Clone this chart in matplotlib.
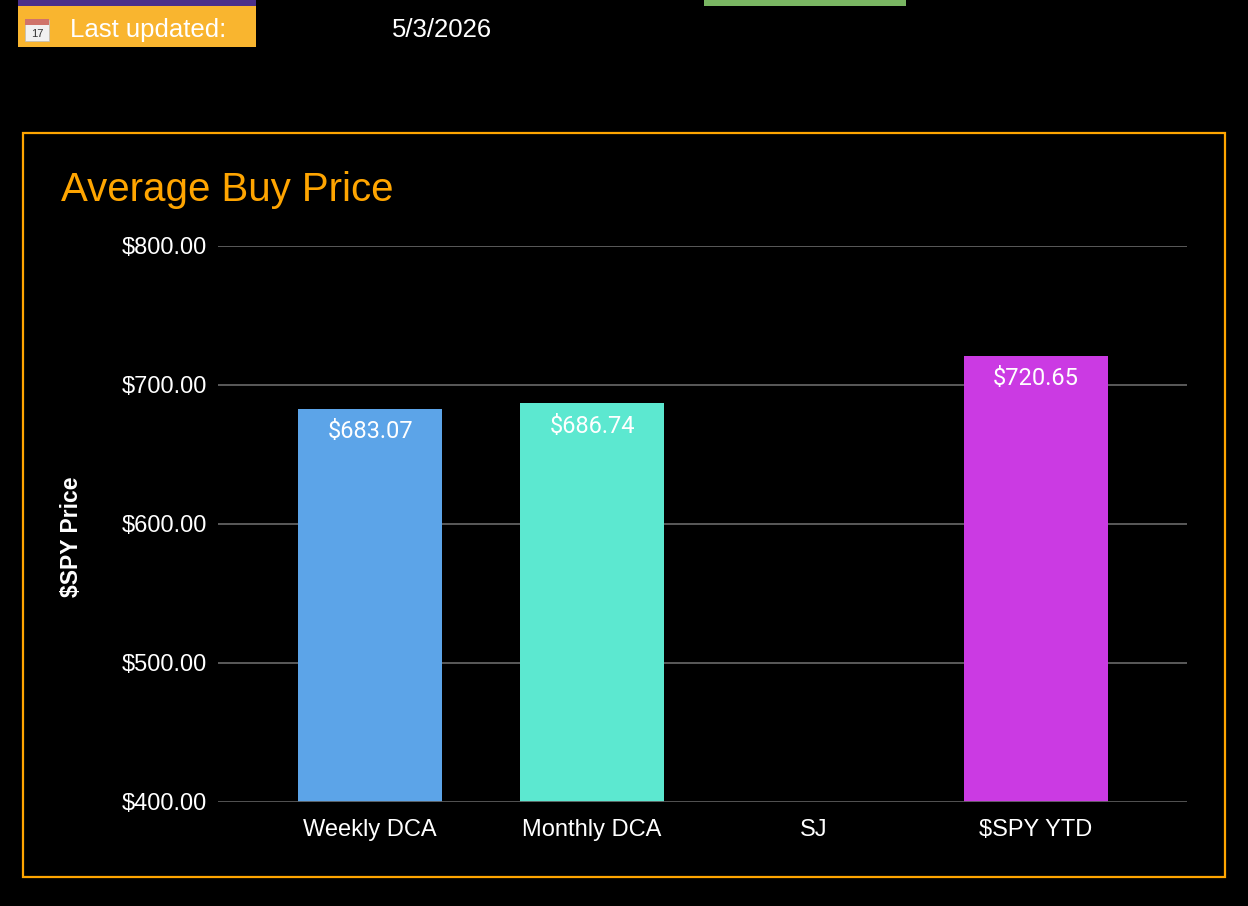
import numpy as np
import matplotlib
matplotlib.use("Agg")
import matplotlib.pyplot as plt
from matplotlib.patches import Rectangle

categories = ["Weekly DCA", "Monthly DCA", "SJ", "$SPY YTD"]
avg_price = [683.07, 686.74, np.nan, 720.65]
bar_colors = ["#5ca4e8", "#5ce8d0", "#000000", "#cb3ae3"]
y_ticks = [400, 500, 600, 700, 800]
last_updated = "5/3/2026"

W, H = 1248, 906
plt.rcParams["font.family"] = ["Liberation Sans", "DejaVu Sans"]

fig = plt.figure(figsize=(W / 100, H / 100), dpi=100, facecolor="black")


def px(x, y):
    # pixel coords (top-left origin) -> figure fraction
    return x / W, 1 - y / H


# header strip
fig.patches.append(Rectangle(px(18, 6), 238 / W, 6 / H, transform=fig.transFigure,
                             facecolor="#4b2f8a", edgecolor="none"))
fig.patches.append(Rectangle(px(18, 47), 238 / W, 41 / H, transform=fig.transFigure,
                             facecolor="#f9b52f", edgecolor="none"))
fig.patches.append(Rectangle(px(704, 6), 202 / W, 6 / H, transform=fig.transFigure,
                             facecolor="#79b562", edgecolor="none"))

# small calendar icon
fig.patches.append(Rectangle(px(25, 41), 24 / W, 21 / H, transform=fig.transFigure,
                             facecolor="#f1f1f1", edgecolor="#bbbbbb", lw=0.5))
fig.patches.append(Rectangle(px(25, 25), 24 / W, 6 / H, transform=fig.transFigure,
                             facecolor="#d0736a", edgecolor="none"))
fig.text(*px(37, 34), "17", color="#333333", fontsize=8, ha="center", va="center")

fig.text(*px(70, 30), "Last updated:", color="white", fontsize=18.5, va="center")
fig.text(*px(392, 30), last_updated, color="white", fontsize=18.5, va="center")

# orange chart frame
fig.patches.append(Rectangle(px(23, 877), 1202 / W, 744 / H, transform=fig.transFigure,
                             facecolor="none", edgecolor="#ffa500", lw=1.6))

fig.text(*px(61, 190), "Average Buy Price", color="#ffa500", fontsize=29, va="center")

ax = fig.add_axes([218 / W, (H - 802) / H, 969 / W, 556 / H])
ax.set_facecolor("black")

x = np.arange(len(categories))
vals = np.array(avg_price)
ax.bar(x, vals - 400, bottom=400, width=0.65, color=bar_colors, zorder=3)

for xi, v in zip(x, vals):
    if np.isnan(v):
        continue
    ax.annotate(f"${v:,.2f}", (xi, v), xytext=(0, -8), textcoords="offset points",
                ha="center", va="top", color="white", fontsize=17, family="Roboto", zorder=4)

ax.set_xlim(-0.685, 3.68)
ax.set_ylim(400, 800)
ax.set_yticks(y_ticks)
ax.set_yticklabels([f"${t:,.2f}" for t in y_ticks])
ax.set_xticks(x)
ax.set_xticklabels(categories)
ax.tick_params(axis="both", length=0, colors="white", labelsize=17)
ax.tick_params(axis="y", pad=8)
ax.tick_params(axis="x", pad=12)

for t in y_ticks[1:]:
    ax.axhline(t, color="#5a5a5a", lw=1.4, zorder=1)
ax.axhline(400, color="#5a5a5a", lw=2, zorder=5)

for s in ax.spines.values():
    s.set_visible(False)

fig.text(*px(72, 537), "$SPY Price", color="white", fontsize=16.5, fontweight="bold",
         rotation=90, ha="center", va="center")

fig.savefig("out.png", dpi=100, facecolor="black")
